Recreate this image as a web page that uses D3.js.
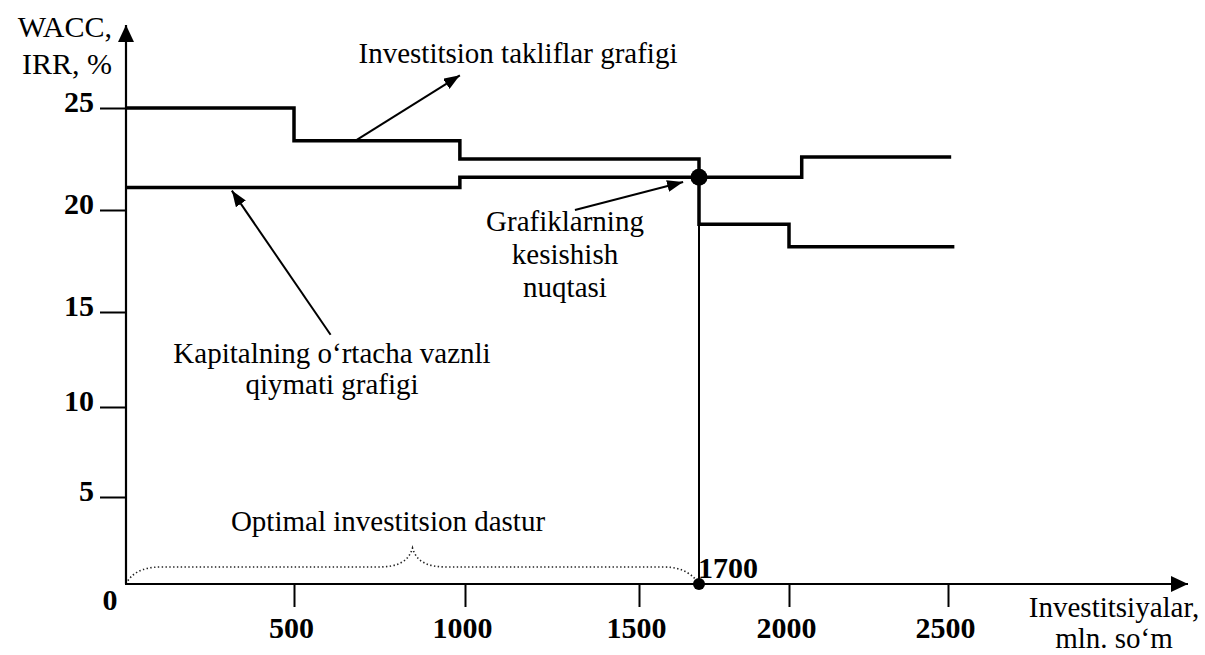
<!DOCTYPE html>
<html>
<head>
<meta charset="utf-8">
<script src="https://cdn.jsdelivr.net/npm/d3@7"></script>
<style>
  body { margin: 0; background: #fff; }
  svg { display: block; font-family: "Liberation Serif", "Times New Roman", serif; }
</style>
</head>
<body>
<svg></svg>
<script>
const width = 1205, height = 655;

// tick values
const xTicks = [500, 1000, 1500, 2000, 2500];
const yTicks = [5, 10, 15, 20, 25];

// investitsion takliflar grafigi (IRR), step breakpoints
const irrX = [0, 500, 985, 1700, 2000, 2520];
const irrY = [25, 23.4, 22.5, 19.3, 18.2, 18.2];

// kapitalning o'rtacha vaznli qiymati (WACC)
const waccX = [0, 985, 2040, 2510];
const waccY = [21.1, 21.6, 22.6, 22.6];

// kesishish nuqtasi
const optX = 1700, optY = 21.6;

const svg = d3.select("svg")
    .attr("width", width)
    .attr("height", height);

// axes in the original are hand drawn, so ticks are not evenly spaced
const x = d3.scaleLinear()
    .domain([0, 500, 1000, 1500, 2000, 2500])
    .range([126, 294, 465, 639, 789, 948]);
const y = d3.scaleLinear()
    .domain([0, 5, 10, 15, 20, 25])
    .range([584, 497, 407, 312, 210, 108]);

const defs = svg.append("defs");
const addMarker = (id, w, h) => {
    defs.append("marker")
        .attr("id", id)
        .attr("viewBox", `0 0 ${w} ${h}`)
        .attr("refX", w).attr("refY", h / 2)
        .attr("markerWidth", w).attr("markerHeight", h)
        .attr("markerUnits", "userSpaceOnUse")
        .attr("orient", "auto")
        .append("path")
        .attr("d", `M0,0L${w},${h / 2}L0,${h}Z`)
        .attr("fill", "#000");
};
addMarker("axisHead", 17, 16);
addMarker("head", 16, 12);

// brace under the optimal programme (dotted)
const bx0 = x(0), bx1 = x(optX), by = y(0), mid = (bx0 + bx1) / 2;
svg.append("path")
    .attr("d", `M${bx0},${by} C${bx0 + 5},${by - 10} ${bx0 + 15},${by - 17} ${bx0 + 35},${by - 17}
        L${mid - 35},${by - 17} C${mid - 15},${by - 17} ${mid - 4},${by - 22} ${mid},${by - 36}
        C${mid + 4},${by - 22} ${mid + 15},${by - 17} ${mid + 35},${by - 17}
        L${bx1 - 35},${by - 17} C${bx1 - 15},${by - 17} ${bx1 - 5},${by - 8} ${bx1},${by}`)
    .attr("fill", "none")
    .attr("stroke", "#222")
    .attr("stroke-width", 1.6)
    .attr("stroke-dasharray", "1.4,2.4");

// y axis
const yAxis = svg.append("g")
    .attr("transform", `translate(${x(0)},0)`)
    .call(d3.axisLeft(y).tickValues(yTicks).tickSize(26).tickPadding(6));
yAxis.select(".domain").remove();
yAxis.selectAll("line").attr("stroke", "#000").attr("stroke-width", 2);
yAxis.selectAll("text")
    .attr("dy", "0.13em")
    .attr("font-family", "Liberation Serif")
    .attr("font-size", 30).attr("font-weight", "bold").attr("fill", "#000");

// x axis
const xAxis = svg.append("g")
    .attr("transform", `translate(0,${y(0)})`)
    .call(d3.axisBottom(x).tickValues(xTicks).tickFormat(d3.format("d")).tickSize(23).tickPadding(10));
xAxis.select(".domain").remove();
xAxis.selectAll("line").attr("stroke", "#000").attr("stroke-width", 2);
xAxis.selectAll("text")
    .attr("dx", -3)
    .attr("font-family", "Liberation Serif")
    .attr("font-size", 30).attr("font-weight", "bold").attr("fill", "#000");

svg.append("line")
    .attr("x1", x(0)).attr("y1", y(0))
    .attr("x2", x(0)).attr("y2", 25)
    .attr("stroke", "#000").attr("stroke-width", 2.2)
    .attr("marker-end", "url(#axisHead)");
svg.append("line")
    .attr("x1", x(0) - 1).attr("y1", y(0))
    .attr("x2", 1188).attr("y2", y(0))
    .attr("stroke", "#000").attr("stroke-width", 2.2)
    .attr("marker-end", "url(#axisHead)");

// thin drop line from the intersection to the axis
svg.append("line")
    .attr("x1", x(optX)).attr("y1", y(optY))
    .attr("x2", x(optX)).attr("y2", y(0))
    .attr("stroke", "#000").attr("stroke-width", 2);

const step = d3.line()
    .x(d => x(d[0]))
    .y(d => y(d[1]))
    .curve(d3.curveStepAfter);

svg.append("path")
    .datum(d3.zip(irrX, irrY))
    .attr("fill", "none").attr("stroke", "#000").attr("stroke-width", 3.5)
    .attr("d", step);
svg.append("path")
    .datum(d3.zip(waccX, waccY))
    .attr("fill", "none").attr("stroke", "#000").attr("stroke-width", 3.5)
    .attr("d", step);

svg.append("circle")
    .attr("cx", x(optX)).attr("cy", y(optY)).attr("r", 8.5).attr("fill", "#000");
svg.append("circle")
    .attr("cx", x(optX)).attr("cy", y(0)).attr("r", 6).attr("fill", "#000");

// annotation arrows (from, to) in data units
const arrows = [
    [[680, 23.4], [985, 26.6]],
    [[607, 13.8], [315, 20.95]],
    [[1316, 20], [1647, 21.37]]
];
svg.selectAll(".arrow")
    .data(arrows)
    .enter().append("line")
    .attr("class", "arrow")
    .attr("x1", d => x(d[0][0])).attr("y1", d => y(d[0][1]))
    .attr("x2", d => x(d[1][0])).attr("y2", d => y(d[1][1]))
    .attr("stroke", "#000").attr("stroke-width", 2)
    .attr("marker-end", "url(#head)");

const label = (lines, px, py, anchor, opts = {}) => {
    const t = svg.append("text")
        .attr("x", px).attr("y", py)
        .attr("text-anchor", anchor)
        .attr("font-size", opts.size || 29)
        .attr("font-weight", opts.bold ? "bold" : "normal")
        .attr("fill", "#000");
    lines.forEach((s, i) => {
        t.append("tspan").attr("x", px).attr("dy", i ? (opts.lh || 33) : 0).text(s);
    });
};

label(["WACC,", "IRR, %"], 112, 37, "end", { size: 30, lh: 37 });
label(["Investitsiyalar,", "mln. so‘m"], 1114, 617, "middle", { lh: 31 });
label(["Investitsion takliflar grafigi"], 518, 63, "middle");
label(["Grafiklarning", "kesishish", "nuqtasi"], 565, 231, "middle");
label(["Kapitalning o‘rtacha vaznli", "qiymati grafigi"], 332, 363, "middle", { lh: 31 });
label(["Optimal investitsion dastur"], 388, 531, "middle");
label(["0"], 110, 610, "middle", { size: 30, bold: true });
label(["1700"], 698, 578, "start", { size: 30, bold: true });
</script>
</body>
</html>
